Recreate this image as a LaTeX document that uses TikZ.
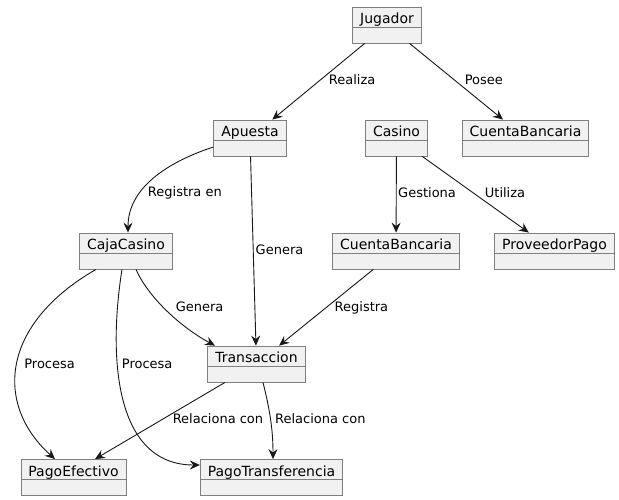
\documentclass[tikz,border=0pt]{standalone}
\usepackage{fontspec}
\setmainfont{DejaVu Sans}
\usepackage{xcolor}
\usepackage{tikz}
\usetikzlibrary{arrows.meta}
\definecolor{boxfill}{HTML}{F1F1F1}
\definecolor{boxline}{HTML}{7F7F7F}
\definecolor{linkgray}{HTML}{181818}

\tikzset{
    objbox/.style={draw=boxline, fill=boxfill, line width=0.8pt,
        inner xsep=7.5pt, inner ysep=0pt, text height=16.5pt, text depth=19.5pt,
        font=\fontsize{14}{16}\selectfont,
        path picture={\draw[boxline, line width=0.8pt]
            ([yshift=-20pt]path picture bounding box.north west) --
            ([yshift=-20pt]path picture bounding box.north east);}},
    link/.style={draw=linkgray, line width=0.9pt,
        -{Stealth[length=10pt, width=9pt, inset=3.5pt]}},
    lbl/.style={font=\fontsize{13}{15}\selectfont, inner sep=0pt, anchor=west,
        text height=9.5pt, text depth=2.5pt}
}

\begin{document}
\begin{tikzpicture}[x=1pt, y=1pt]
    \path[fill=white, use as bounding box] (0,0) rectangle (619,-500);

    % objects
    \node[objbox] (jugador) at (387,-25) {Jugador};
    \node[objbox] (apuesta) at (250,-138) {Apuesta};
    \node[objbox] (casino) at (396.5,-138) {Casino};
    \node[objbox] (cuenta1) at (525.5,-138) {CuentaBancaria};
    \node[objbox] (caja) at (126,-251) {CajaCasino};
    \node[objbox] (cuenta2) at (396,-251) {CuentaBancaria};
    \node[objbox] (proveedor) at (554.5,-251) {ProveedorPago};
    \node[objbox] (trans) at (256.5,-364) {Transaccion};
    \node[objbox] (pefect) at (73.5,-477.5) {PagoEfectivo};
    \node[objbox] (ptrans) at (271.5,-477.5) {PagoTransferencia};

    % links
    \draw[link] (jugador) -- node[lbl, pos=0.49, xshift=9pt] {Realiza} (apuesta);
    \draw[link] (jugador) -- node[lbl, pos=0.49, xshift=9pt] {Posee} (cuenta1);
    \draw[link] ([yshift=-9pt]apuesta.west) to[out=198, in=90, out distance=41pt, in distance=48pt]
        node[lbl, pos=0.68, xshift=7pt] {Registra en} ([xshift=2pt]caja.north);
    \draw[link] (apuesta) -- node[lbl, pos=0.5, xshift=2pt] {Genera} (trans);
    \draw[link] (casino) -- node[lbl, pos=0.49, xshift=1.5pt] {Gestiona} (cuenta2);
    \draw[link] (casino) -- node[lbl, pos=0.49, xshift=10pt] {Utiliza} (proveedor);
    \draw[link] (cuenta2) -- node[lbl, pos=0.5, xshift=8pt] {Registra} (trans);
    \draw[link] ([xshift=10pt]caja.south) to[out=294, in=152, out distance=34pt, in distance=34pt]
        node[lbl, pos=0.44, xshift=11pt] {Genera} ([xshift=-41.5pt]trans.north);
    \draw[link] ([xshift=-30pt]caja.south) to[out=210, in=138, out distance=111pt, in distance=81pt]
        node[lbl, pos=0.5, xshift=7pt] {Procesa} ([xshift=-18.5pt]pefect.north);
    \draw[link] ([xshift=-4pt]caja.south) to[out=261, in=180, out distance=92pt, in distance=84pt]
        node[lbl, pos=0.35, xshift=4pt] {Procesa} ([yshift=12.5pt]ptrans.west);
    \draw[link] ([xshift=-31.5pt]trans.south) -- node[lbl, pos=0.49, xshift=11pt] {Relaciona con}
        ([xshift=21.5pt]pefect.north);
    \draw[link] ([xshift=6.5pt]trans.south) to[out=284, in=90, out distance=29pt, in distance=29pt]
        node[lbl, pos=0.5, xshift=4pt] {Relaciona con} ([xshift=1.5pt]ptrans.north);
\end{tikzpicture}
\end{document}
